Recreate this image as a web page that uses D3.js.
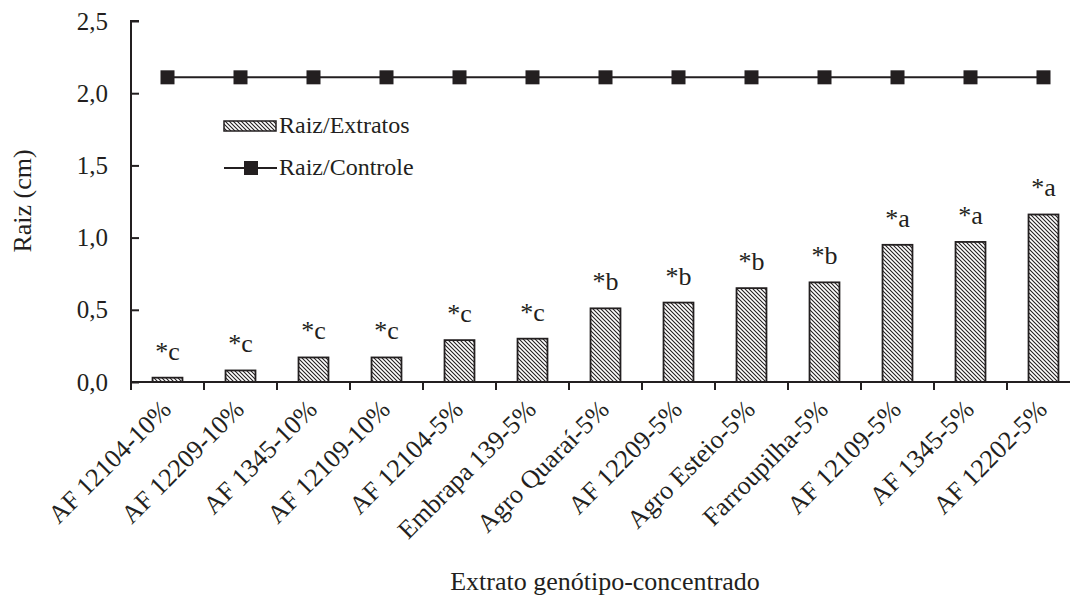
<!DOCTYPE html>
<html><head><meta charset="utf-8">
<script src="https://cdn.jsdelivr.net/npm/d3@7"></script>
<style>body{margin:0;background:#fff}svg{font-family:"Liberation Serif","Times New Roman",serif}</style>
</head><body>
<svg id="c" width="1070" height="598"></svg>
<script>
const categories = ["AF 12104-10%","AF 12209-10%","AF 1345-10%","AF 12109-10%","AF 12104-5%","Embrapa 139-5%","Agro Quaraí-5%","AF 12209-5%","Agro Esteio-5%","Farroupilha-5%","AF 12109-5%","AF 1345-5%","AF 12202-5%"];
const extratos = [0.03,0.08,0.17,0.17,0.29,0.30,0.51,0.55,0.65,0.69,0.95,0.97,1.16];
const controle = [2.11,2.11,2.11,2.11,2.11,2.11,2.11,2.11,2.11,2.11,2.11,2.11,2.11];
const letters = ["*c","*c","*c","*c","*c","*c","*b","*b","*b","*b","*a","*a","*a"];
const yTicks = [0,0.5,1.0,1.5,2.0,2.5];

const svg = d3.select("#c");
const ink = "#231f20";
const FF = "Liberation Serif";
const x0 = 131, y0 = 382, yTop = 21;
const x = d3.scaleBand().domain(categories).range([x0, x0 + 73*13]).paddingInner(0.59).paddingOuter(0.295);
const y = d3.scaleLinear().domain([0,2.5]).range([y0, yTop]);

const defs = svg.append("defs");
const pat = defs.append("pattern").attr("id","hatch").attr("patternUnits","userSpaceOnUse")
  .attr("width",4).attr("height",4);
pat.append("rect").attr("width",4).attr("height",4).attr("fill","#fff");
pat.append("path").attr("d","M-1,-1 L5,5 M-1,3 L1,5 M3,-1 L5,1").attr("stroke",ink).attr("stroke-width",1.1);

// bars
svg.append("g").selectAll("rect").data(extratos).join("rect")
  .attr("x",(d,i)=>x(categories[i])).attr("width",x.bandwidth())
  .attr("y",d=>y(d)).attr("height",d=>y0-y(d))
  .attr("fill","url(#hatch)").attr("stroke",ink).attr("stroke-width",1.8);

// letters
svg.append("g").selectAll("text").data(extratos).join("text")
  .attr("x",(d,i)=>x(categories[i])+x.bandwidth()/2).attr("y",d=>y(d)-18)
  .attr("text-anchor","middle").style("font-size","26px").style("font-family",FF).attr("fill",ink)
  .text((d,i)=>letters[i]);

// control line
const cx = i => x(categories[i]) + x.bandwidth()/2;
svg.append("path").datum(controle)
  .attr("d", d3.line().x((d,i)=>cx(i)).y(d=>y(d)))
  .attr("fill","none").attr("stroke",ink).attr("stroke-width",2);
svg.append("g").selectAll("rect").data(controle).join("rect")
  .attr("x",(d,i)=>cx(i)-7).attr("y",d=>y(d)-7).attr("width",14).attr("height",14).attr("fill",ink);

// y axis (ticks point inward)
const ya = svg.append("g").attr("transform",`translate(${x0},0)`)
  .call(d3.axisLeft(y).tickValues(yTicks).tickSize(-8).tickPadding(23).tickFormat(d=>d3.format(".1f")(d).replace(".",",")));
ya.select(".domain").attr("stroke",ink).attr("stroke-width",2).attr("d",`M8,${yTop}H0V${y0}`);
ya.selectAll(".tick line").attr("stroke",ink).attr("stroke-width",2);
ya.selectAll("text").style("font-size","25px").attr("fill",ink).style("font-family",FF);

// x axis
const xa = svg.append("g").attr("transform",`translate(0,${y0})`);
xa.append("line").attr("x1",x0).attr("x2",1070).attr("stroke",ink).attr("stroke-width",2);
xa.selectAll("line.t").data(d3.range(14)).join("line").attr("class","t")
  .attr("x1",i=>x0+73*i).attr("x2",i=>x0+73*i).attr("y1",0).attr("y2",8).attr("stroke",ink).attr("stroke-width",2);
xa.selectAll("text").data(categories).join("text")
  .attr("transform",(d)=>`translate(${x(d)+x.bandwidth()/2-6},18) rotate(-45)`)
  .attr("text-anchor","end").attr("dy","0.6em").style("font-size","26px").style("font-family",FF).attr("fill",ink).text(d=>d);

// titles
svg.append("text").attr("x",605).attr("y",590).attr("text-anchor","middle").style("font-size","26px").style("font-family",FF).attr("fill",ink)
  .text("Extrato genótipo-concentrado");
svg.append("text").attr("transform","translate(31,201) rotate(-90)").attr("text-anchor","middle").style("font-size","26px").style("font-family",FF).attr("fill",ink)
  .text("Raiz (cm)");

// legend
const lg = svg.append("g");
lg.append("rect").attr("x",224).attr("y",121).attr("width",52).attr("height",10).attr("fill","url(#hatch)").attr("stroke",ink).attr("stroke-width",1.5);
lg.append("text").attr("x",279).attr("y",133).style("font-size","24px").style("font-family",FF).attr("fill",ink).text("Raiz/Extratos");
lg.append("line").attr("x1",224).attr("x2",277).attr("y1",168).attr("y2",168).attr("stroke",ink).attr("stroke-width",2);
lg.append("rect").attr("x",244).attr("y",161).attr("width",14).attr("height",14).attr("fill",ink);
lg.append("text").attr("x",279).attr("y",175).style("font-size","24px").style("font-family",FF).attr("fill",ink).text("Raiz/Controle");
</script>
</body></html>
